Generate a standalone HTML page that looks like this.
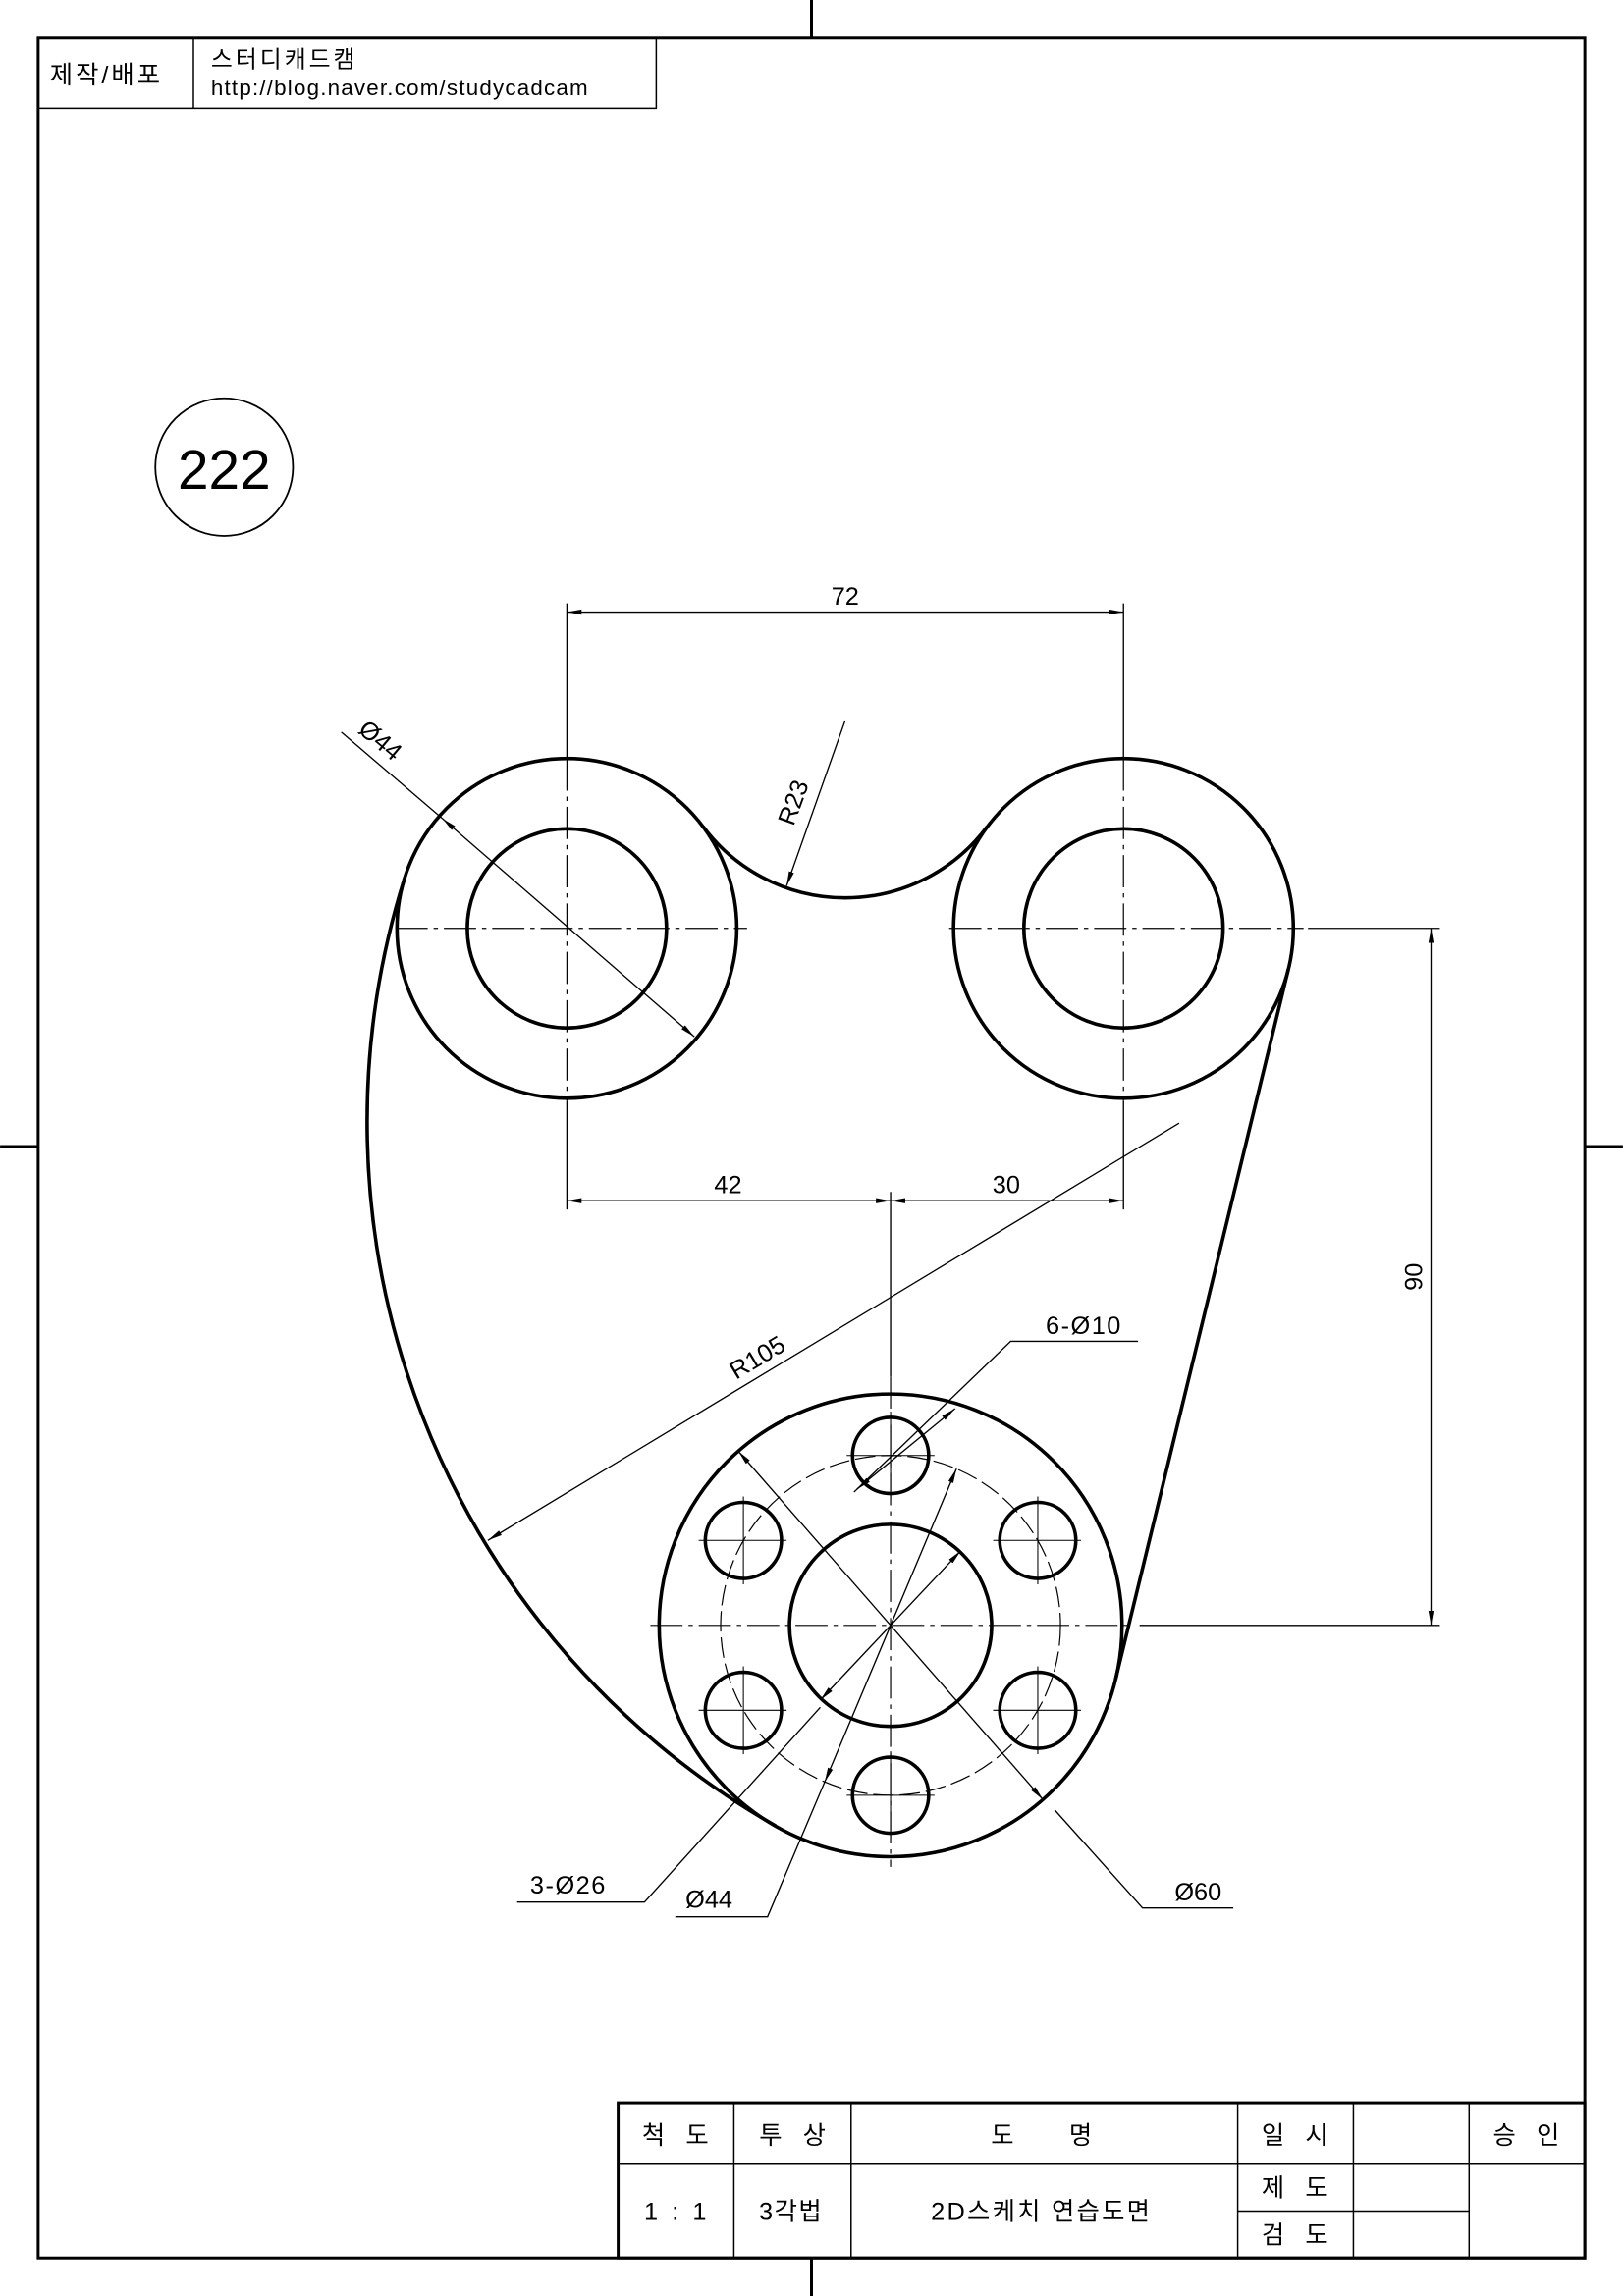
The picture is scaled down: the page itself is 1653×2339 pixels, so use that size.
<!DOCTYPE html>
<html><head><meta charset="utf-8"><style>
html,body{margin:0;padding:0;background:#fff}
svg{display:block}
text{font-family:"Liberation Sans","Noto Sans CJK KR",sans-serif;fill:#000;white-space:pre}
</style></head><body>
<svg width="1653" height="2339" viewBox="0 0 1108 1568" xmlns="http://www.w3.org/2000/svg" xml:space="preserve">
<defs>
<marker id="a" viewBox="0 0 10 10" refX="10" refY="5" markerWidth="10" markerHeight="10" markerUnits="userSpaceOnUse" orient="auto-start-reverse"><path d="M0,3.2 L10,5 L0,6.8 z" fill="#000"/></marker>
</defs>
<rect width="1108" height="1568" fill="#fff"/>
<g stroke="#000" fill="none">
<rect x="26" y="26" width="1056" height="1516" stroke-width="2"/>
<line x1="554" y1="0" x2="554" y2="26" stroke-width="2"/>
<line x1="554" y1="1542" x2="554" y2="1568" stroke-width="2"/>
<line x1="0" y1="783" x2="26" y2="783" stroke-width="2"/>
<line x1="1082" y1="783" x2="1108" y2="783" stroke-width="2"/>
<path d="M26 74 H448 V26 M132 26 V74" stroke-width="1"/>
<circle cx="153" cy="319" r="47" stroke-width="1.2"/>

<g stroke-width="0.8" stroke-dasharray="22 4 3 4">
<line x1="270" y1="634" x2="510" y2="634"/>
<line x1="648" y1="634" x2="890" y2="634"/>
<line x1="387" y1="518" x2="387" y2="752"/>
<line x1="767" y1="518" x2="767" y2="752"/>
<line x1="444" y1="1110" x2="773" y2="1110"/>
<line x1="608" y1="940" x2="608" y2="1275"/>
</g>
<circle cx="608" cy="1110" r="116" stroke-width="0.8" stroke-dasharray="14 4"/>

<g stroke-width="2.4">
<circle cx="387" cy="634" r="116"/>
<circle cx="387" cy="634" r="68"/>
<circle cx="767" cy="634" r="116"/>
<circle cx="767" cy="634" r="68"/>
<path d="M480 564.5 A121 121 0 0 0 674 564.5"/>
<circle cx="608" cy="1110" r="158"/>
<circle cx="608" cy="1110" r="69"/>
<circle cx="608" cy="994" r="26"/>
<circle cx="708.5" cy="1052" r="26"/>
<circle cx="708.5" cy="1168" r="26"/>
<circle cx="608" cy="1226" r="26"/>
<circle cx="507.5" cy="1168" r="26"/>
<circle cx="507.5" cy="1052" r="26"/>
<path d="M276.4 599 A554 554 0 0 0 529.6 1247"/>
<line x1="879.7" y1="661.4" x2="761.5" y2="1147.3"/>
</g>
<g stroke-width="0.7">
<line x1="578" y1="994" x2="638" y2="994"/><line x1="608" y1="964" x2="608" y2="1024"/>
<line x1="678" y1="1052" x2="738" y2="1052"/><line x1="708.5" y1="1022" x2="708.5" y2="1082"/>
<line x1="678" y1="1168" x2="738" y2="1168"/><line x1="708.5" y1="1138" x2="708.5" y2="1198"/>
<line x1="578" y1="1226" x2="638" y2="1226"/><line x1="608" y1="1196" x2="608" y2="1256"/>
<line x1="477" y1="1168" x2="537" y2="1168"/><line x1="507.5" y1="1138" x2="507.5" y2="1198"/>
<line x1="477" y1="1052" x2="537" y2="1052"/><line x1="507.5" y1="1022" x2="507.5" y2="1082"/>
</g>

<g stroke-width="0.9">
<line x1="387" y1="412" x2="387" y2="518"/>
<line x1="767" y1="412" x2="767" y2="518"/>
<line x1="387" y1="418" x2="767" y2="418" marker-start="url(#a)" marker-end="url(#a)"/>
<line x1="387" y1="752" x2="387" y2="826"/>
<line x1="767" y1="752" x2="767" y2="826"/>
<line x1="608" y1="814" x2="608" y2="940"/>
<line x1="387" y1="820" x2="608" y2="820" marker-start="url(#a)" marker-end="url(#a)"/>
<line x1="608" y1="820" x2="767" y2="820" marker-start="url(#a)" marker-end="url(#a)"/>
<line x1="893" y1="634" x2="983" y2="634"/>
<line x1="778" y1="1110" x2="983" y2="1110"/>
<line x1="977" y1="634" x2="977" y2="1110" marker-start="url(#a)" marker-end="url(#a)"/>
<line x1="233" y1="500" x2="302" y2="559"/>
<line x1="302" y1="559" x2="474" y2="708" marker-start="url(#a)" marker-end="url(#a)"/>
<line x1="577" y1="492" x2="537" y2="605" marker-end="url(#a)"/>
<line x1="805" y1="767" x2="333" y2="1052" marker-end="url(#a)"/>
<path d="M777 916 H690 L583 1019"/>
<line x1="652" y1="962" x2="585" y2="1017" marker-start="url(#a)" marker-end="url(#a)"/>
<path d="M353 1299 H440 L560 1166"/>
<line x1="560" y1="1161" x2="656" y2="1059" marker-start="url(#a)" marker-end="url(#a)"/>
<path d="M461 1309 H524 L563 1217"/>
<line x1="563" y1="1217" x2="653" y2="1003" marker-start="url(#a)" marker-end="url(#a)"/>
<path d="M842 1303 H780 L720 1236"/>
<line x1="504" y1="991" x2="712" y2="1229" marker-start="url(#a)" marker-end="url(#a)"/>
</g>

<g stroke-width="1">
<rect x="422" y="1436" width="660" height="106" stroke-width="2"/>
<line x1="422" y1="1478" x2="1082" y2="1478"/>
<line x1="845" y1="1510" x2="1003" y2="1510"/>
<line x1="501" y1="1436" x2="501" y2="1542"/>
<line x1="581" y1="1436" x2="581" y2="1542"/>
<line x1="845" y1="1436" x2="845" y2="1542"/>
<line x1="924" y1="1436" x2="924" y2="1542"/>
<line x1="1003" y1="1436" x2="1003" y2="1542"/>
</g>
</g>

<g font-size="17">
<text x="34" y="57" letter-spacing="2">제작/배포</text>
<text x="144" y="46" font-size="16" letter-spacing="2">스터디캐드캠</text>
<text x="144" y="65" font-size="15" letter-spacing="0.8">http://blog.naver.com/studycadcam</text>
<text x="153" y="334" font-size="38" text-anchor="middle">222</text>
<text x="577" y="413" text-anchor="middle">72</text>
<text x="497" y="815" text-anchor="middle">42</text>
<text x="687" y="815" text-anchor="middle">30</text>
<text transform="translate(971,872) rotate(-90)" text-anchor="middle">90</text>
<text transform="translate(256,510) rotate(40)" text-anchor="middle">Ø44</text>
<text transform="translate(547,550) rotate(-70)" text-anchor="middle">R23</text>
<text transform="translate(520,932) rotate(-31)" text-anchor="middle">R105</text>
<text x="740" y="911" text-anchor="middle" letter-spacing="1">6-Ø10</text>
<text x="388" y="1293" text-anchor="middle" letter-spacing="1">3-Ø26</text>
<text x="484" y="1303" text-anchor="middle">Ø44</text>
<text x="818" y="1298" text-anchor="middle">Ø60</text>
<text x="461" y="1464" text-anchor="middle">척   도</text>
<text x="541" y="1464" text-anchor="middle">투   상</text>
<text x="711" y="1464" text-anchor="middle">도        명</text>
<text x="884" y="1464" text-anchor="middle">일   시</text>
<text x="1042" y="1464" text-anchor="middle">승   인</text>
<text x="461" y="1516" text-anchor="middle">1  :  1</text>
<text x="540" y="1516" text-anchor="middle" letter-spacing="1">3각법</text>
<text x="711" y="1516" text-anchor="middle" letter-spacing="1.5">2D스케치 연습도면</text>
<text x="884" y="1500" text-anchor="middle">제   도</text>
<text x="884" y="1532" text-anchor="middle">검   도</text>
</g>
</svg>
</body></html>
